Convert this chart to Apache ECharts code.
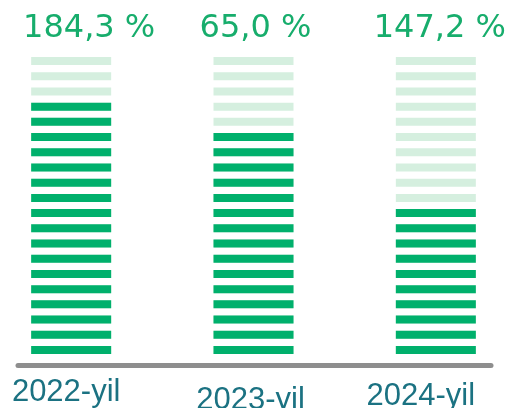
<!DOCTYPE html>
<html>
<head>
<meta charset="utf-8">
<script src="https://cdn.jsdelivr.net/npm/echarts@6/dist/echarts.min.js"></script>
<style>
  html, body { margin: 0; padding: 0; background: #fff; }
  #main { width: 507px; height: 408px; }
</style>
</head>
<body>
<div id="main"></div>
<script>
// data
var years = ['2022-yil', '2023-yil', '2024-yil'];
var filled = [17, 15, 10];          // dark segments per column
var total = [20, 20, 20];           // all segments per column
var topLabels = ['184,3 %', '65,0 %', '147,2 %'];

var chart = echarts.init(document.getElementById('main'), null, { renderer: 'canvas' });

// small per-column nudges so labels sit where they are in the picture
var topOffset = [[18, 0], [2, 0], [4, 0]];
var yearPad = [[0, 10, 0, 0], [8, 6, 0, 0], [4, 30, 0, 0]];

var option = {
    animation: false,
    grid: [
        { left: -20, right: -20, top: 53.4, height: 304.2, outerBoundsMode: 'none' },
        { left: 18, right: 16, top: 300, height: 65, outerBoundsMode: 'none' }  // only for the base line
    ],
    xAxis: [{
        type: 'category',
        gridIndex: 0,
        data: years.map(function (y, i) {
            return { value: y, textStyle: { padding: yearPad[i] } };
        }),
        axisLine: { show: false },
        axisTick: { show: false },
        axisLabel: {
            margin: 19,
            fontSize: 31,
            fontFamily: 'Liberation Sans, Arial, sans-serif',
            color: '#1b7282'
        }
    }, {
        type: 'category',
        gridIndex: 1,
        data: years,
        axisLine: { show: true, lineStyle: { color: '#8e8e8e', width: 5 } },
        axisTick: { show: false },
        axisLabel: { show: false }
    }],
    yAxis: [{
        type: 'value', gridIndex: 0, min: 0, max: 20,
        show: false
    }, {
        type: 'value', gridIndex: 1, show: false
    }],
    series: [{
        name: 'bg',
        type: 'pictorialBar',
        symbol: 'rect',
        symbolSize: [80, 8],
        symbolMargin: '3.6!',
        barGap: '-100%',
        z: 1,
        itemStyle: { color: '#d5efdf' },
        data: total.map(function (v, i) {
            return {
                value: v,
                symbolRepeat: v,
                symbolBoundingData: v,
                label: {
                    show: true,
                    position: 'top',
                    distance: 9,
                    offset: topOffset[i],
                    formatter: topLabels[i],
                    fontSize: 32,
                    fontFamily: 'DejaVu Sans, sans-serif',
                    color: '#17ad6c'
                }
            };
        })
    }, {
        name: 'value',
        type: 'pictorialBar',
        symbol: 'rect',
        symbolSize: [80, 8],
        symbolMargin: '3.6!',
        barGap: '-100%',
        z: 2,
        itemStyle: { color: '#00b06c' },
        data: filled.map(function (v) {
            return { value: v, symbolRepeat: v, symbolBoundingData: v };
        })
    }]
};

chart.setOption(option);
</script>
</body>
</html>
